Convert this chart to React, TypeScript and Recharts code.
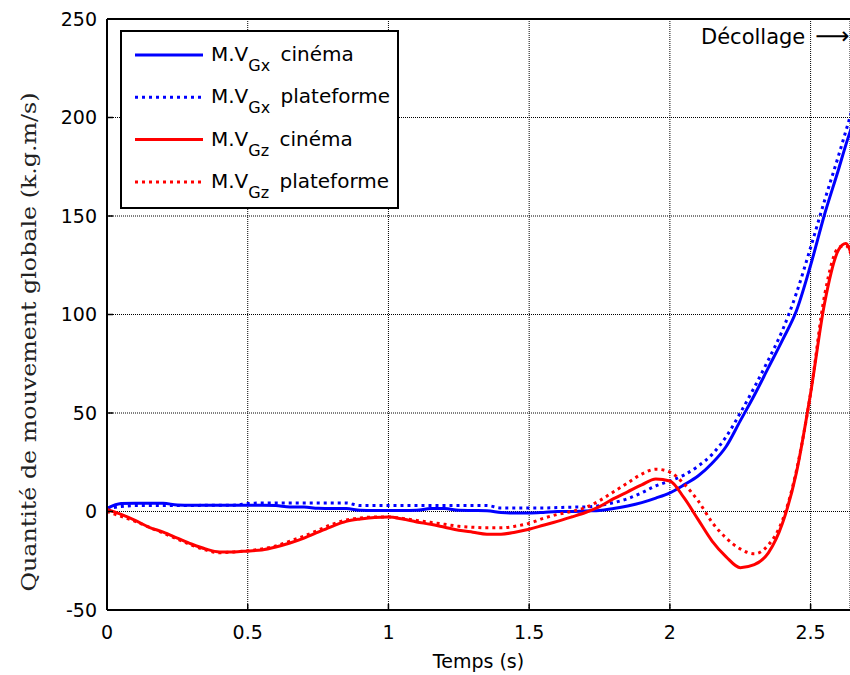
import { LineChart, Line, XAxis, YAxis, CartesianGrid, ReferenceLine } from "recharts";

// ─── Data ───────────────────────────────────────────────────────────────────

const time = [
  0, 0.05, 0.1, 0.15, 0.2, 0.25, 0.3, 0.35, 0.4, 0.45, 0.5, 0.55, 0.6, 0.65,
  0.7, 0.75, 0.8, 0.85, 0.9, 0.95, 1.0, 1.05, 1.1, 1.15, 1.2, 1.25, 1.3, 1.35,
  1.4, 1.45, 1.5, 1.55, 1.6, 1.65, 1.7, 1.75, 1.8, 1.85, 1.9, 1.95, 2.0, 2.05,
  2.1, 2.15, 2.2, 2.25, 2.3, 2.35, 2.4, 2.45, 2.5, 2.55, 2.6, 2.625, 2.65,
];

const gxCinema = [
  1.5, 4, 4.2, 4.2, 4.2, 3.3, 3.2, 3.2, 3.2, 3.2, 3.2, 3.2, 3.0, 2.3, 2.3, 1.6,
  1.5, 1.5, 0.6, 0.5, 0.5, 0.5, 0.6, 1.5, 1.5, 0.6, 0.5, 0.4, -0.5, -0.8, -0.8,
  -0.5, 0, 0, 0.3, 0.5, 1.5, 2.8, 4.5, 6.8, 9.5, 13.5, 18, 24.5, 33, 46, 59, 73,
  87, 102, 125, 151, 174, 186, 197,
];

const gxPlateforme = [
  1.5, 2.5, 3, 3, 3, 3, 3, 3.2, 3.2, 3.2, 4.0, 4.3, 4.3, 4.3, 4.3, 4.3, 4.3,
  4.3, 3, 3, 3, 3, 3, 3, 3, 3, 3, 3, 1.8, 1.8, 1.8, 1.8, 2, 2.2, 2.3, 3, 4.5,
  6.5, 9.5, 13, 15.5, 18.5, 23, 29, 38, 50, 63, 77, 92, 111, 134, 158, 181, 193,
  205,
];

const gzCinema = [
  1, -1.5, -4.5, -8, -10.5, -13.5, -16.5, -19, -20.5, -20.5, -20, -19.5, -18,
  -16, -13.5, -10.5, -7.5, -5, -3.8, -3, -2.8, -3.8, -5.3, -6.5, -8, -9.5,
  -10.5, -11.5, -11.5, -10.5, -9, -7, -5, -2.8, -0.5, 2.5, 6.5, 10, 13.5, 16.5,
  15.5, 7, -4, -15, -23, -28.5, -27, -21, -6, 20, 60, 106, 133, 136, 128,
];

const gzPlateforme = [
  0, -2.5, -5, -8, -11, -14, -17, -19.5, -21, -20.5, -20, -19, -17.5, -15,
  -12.5, -9.5, -6.5, -4.3, -3.3, -2.8, -2.8, -3.5, -4.5, -5.5, -6.5, -7.5, -8,
  -8.3, -8.3, -7.5, -6, -3.5, -1.5, 0, 2, 5.5, 10, 14.5, 19, 21.5, 20, 14, 5.5,
  -5.5, -13.5, -19, -21.5, -17, -4.5, 21, 60, 110, 134, 135, 128,
];

const xTicks = [0, 0.5, 1, 1.5, 2, 2.5];
const yTicks = [-50, 0, 50, 100, 150, 200, 250];

const legendSubs = ["Gx", "Gx", "Gz", "Gz"];
const legendKinds = ["cinéma", "plateforme", "cinéma", "plateforme"];

// ─── Styling ────────────────────────────────────────────────────────────────

const SANS = "'DejaVu Sans', Arial, sans-serif";
const SERIF = "'DejaVu Serif', 'Times New Roman', serif";
const BLUE = "#0000ff";
const RED = "#ff0000";
const DOTS = "3 4";

const legendColors = [BLUE, BLUE, RED, RED];
const legendDashed = [false, true, false, true];

// ─── Ticks (MATLAB style: tick marks point inward) ──────────────────────────

function XTick(props: any) {
  const { x, y, payload } = props;
  const axisY = y - 8; // tickSize 6 + tickMargin 2
  return (
    <g>
      <line x1={x} x2={x} y1={axisY} y2={axisY - 6} stroke="#000" strokeWidth={1.5} />
      <text x={x} y={axisY + 29} textAnchor="middle" fontFamily={SANS} fontSize={19} fill="#000">
        {payload.value}
      </text>
    </g>
  );
}

function YTick(props: any) {
  const { x, y, payload } = props;
  const axisX = x + 8;
  return (
    <g>
      <line x1={axisX} x2={axisX + 6} y1={y} y2={y} stroke="#000" strokeWidth={1.5} />
      <text x={axisX - 10} y={y} dy="0.36em" textAnchor="end" fontFamily={SANS} fontSize={19} fill="#000">
        {payload.value}
      </text>
    </g>
  );
}

function YLabel(props: any) {
  const { viewBox } = props;
  const cx = viewBox.x + 29;
  const cy = 342;
  return (
    <text
      x={cx}
      y={cy}
      transform={`rotate(-90, ${cx}, ${cy})`}
      textAnchor="middle"
      dominantBaseline="central"
      fontFamily={SERIF}
      fontSize={20}
      fill="#222"
      textLength={499}
      lengthAdjust="spacingAndGlyphs"
    >
      Quantité de mouvement globale (k.g.m/s)
    </text>
  );
}

// ─── Legend + annotation overlay ────────────────────────────────────────────

function LegendBox() {
  return (
    <svg
      width={850}
      height={675}
      style={{ position: "absolute", left: 0, top: 0, pointerEvents: "none" }}
    >
      <rect x={121} y={31} width={277} height={177} fill="#fff" stroke="#000" strokeWidth={2} />
      {legendKinds.map((kind, i) => {
        const rowY = 55 + i * 42.3;
        return (
          <g key={i}>
            <line
              x1={135}
              x2={203}
              y1={rowY}
              y2={rowY}
              stroke={legendColors[i]}
              strokeWidth={3}
              strokeDasharray={legendDashed[i] ? DOTS : undefined}
            />
            <text x={211} y={rowY + 6} fontFamily={SANS} fontSize={20} fill="#000">
              M.V
              <tspan dy={10} fontSize={16}>
                {legendSubs[i]}
              </tspan>
              <tspan dy={-10} dx={4} fontSize={20}>
                {" " + kind}
              </tspan>
            </text>
          </g>
        );
      })}
      <text x={701} y={44} fontFamily={SANS} fontSize={21} fill="#000">
        Décollage
        <tspan dx={10} fontSize={24}>⟶</tspan>
      </text>
    </svg>
  );
}

// ─── Main chart ─────────────────────────────────────────────────────────────

export default function App() {
  const rows = time.map((t, i) => ({
    t,
    gxCinema: gxCinema[i],
    gxPlateforme: gxPlateforme[i],
    gzCinema: gzCinema[i],
    gzPlateforme: gzPlateforme[i],
  }));

  return (
    <div
      style={{
        position: "absolute",
        left: 0,
        top: 0,
        width: 850,
        height: 675,
        background: "#fff",
        overflow: "hidden",
      }}
    >
      <LineChart
        width={850}
        height={675}
        data={rows}
        margin={{ top: 19, right: 0, bottom: 5, left: 0 }}
      >
        <CartesianGrid stroke="#000" strokeDasharray="1 1" strokeWidth={1} />
        <XAxis
          dataKey="t"
          type="number"
          domain={[0, 2.64]}
          allowDataOverflow
          ticks={xTicks}
          height={60}
          tickSize={6}
          tickMargin={2}
          tickLine={false}
          axisLine={{ stroke: "#000", strokeWidth: 2 }}
          tick={<XTick />}
          label={{
            value: "Temps (s)",
            position: "insideBottom",
            offset: 2,
            fontFamily: SANS,
            fontSize: 19,
            fill: "#000",
          }}
        />
        <YAxis
          type="number"
          domain={[-50, 250]}
          ticks={yTicks}
          width={107}
          tickSize={6}
          tickMargin={2}
          tickLine={false}
          axisLine={{ stroke: "#000", strokeWidth: 2 }}
          tick={<YTick />}
          label={<YLabel />}
        />
        <ReferenceLine y={250} stroke="#000" strokeWidth={2} />
        <Line
          dataKey="gxCinema"
          type="monotone"
          stroke={BLUE}
          strokeWidth={3}
          dot={false}
          isAnimationActive={false}
        />
        <Line
          dataKey="gxPlateforme"
          type="monotone"
          stroke={BLUE}
          strokeWidth={3}
          strokeDasharray={DOTS}
          dot={false}
          isAnimationActive={false}
        />
        <Line
          dataKey="gzCinema"
          type="monotone"
          stroke={RED}
          strokeWidth={3}
          dot={false}
          isAnimationActive={false}
        />
        <Line
          dataKey="gzPlateforme"
          type="monotone"
          stroke={RED}
          strokeWidth={3}
          strokeDasharray={DOTS}
          dot={false}
          isAnimationActive={false}
        />
      </LineChart>
      <LegendBox />
    </div>
  );
}
